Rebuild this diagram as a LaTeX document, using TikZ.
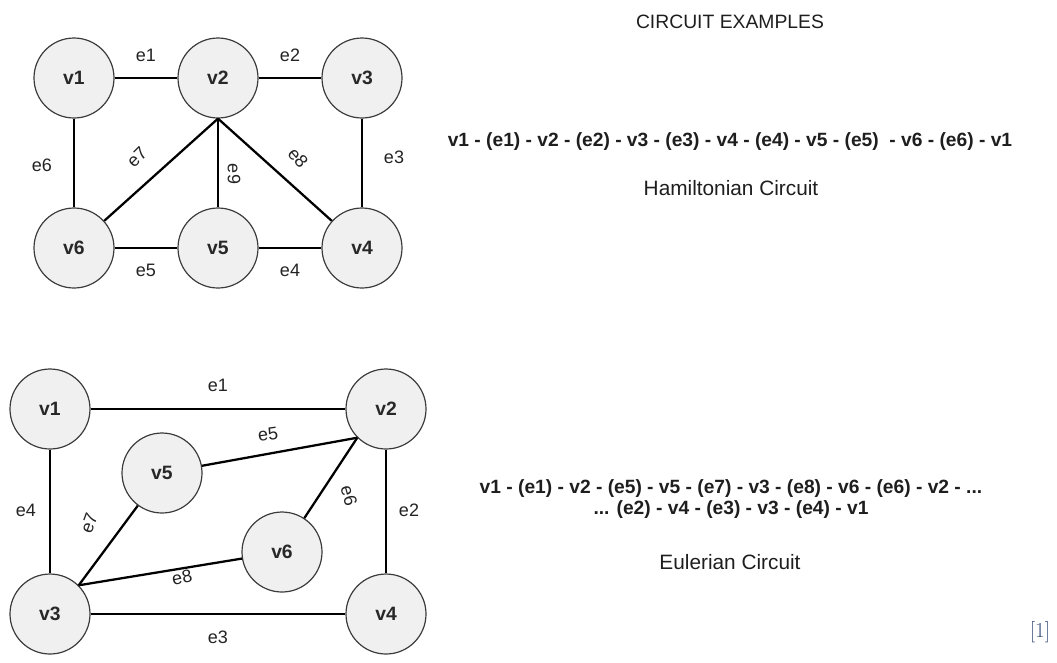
\documentclass[tikz,border=0pt]{standalone}
\usepackage{fontspec}
\setmainfont{Liberation Sans}
\begin{document}
\begin{tikzpicture}[x=0.75pt,y=-0.75pt,
  vertex/.style={circle,draw={rgb,255:red,60;green,60;blue,60},line width=0.9pt,
    fill={rgb,255:red,240;green,240;blue,240},minimum size=60pt,inner sep=0pt,
    font=\fontsize{14.5}{17}\selectfont\bfseries,text={rgb,255:red,40;green,40;blue,40}},
  edge/.style={line width=1.7pt,black},
  elabel/.style={inner sep=0pt,font=\fontsize{13.5}{16}\selectfont,text={rgb,255:red,35;green,35;blue,35}},
  caption/.style={inner sep=0pt,align=center,font=\fontsize{15.6}{18}\selectfont,text={rgb,255:red,30;green,30;blue,30}},
  walk/.style={inner sep=0pt,align=center,font=\fontsize{14.4}{17}\selectfont\bfseries,text={rgb,255:red,30;green,30;blue,30}}]
\useasboundingbox (0,0) rectangle (1057,662);

% ---- Hamiltonian example ----
\node[vertex] (h1) at (74,78) {v1};
\node[vertex] (h2) at (218,78) {v2};
\node[vertex] (h3) at (362,78) {v3};
\node[vertex] (h6) at (74,248) {v6};
\node[vertex] (h5) at (218,248) {v5};
\node[vertex] (h4) at (362,248) {v4};

\draw[edge] (h1) -- (h2);
\draw[edge] (h2) -- (h3);
\draw[edge] (h1) -- (h6);
\draw[edge] (h3) -- (h4);
\draw[edge] (h6) -- (h5);
\draw[edge] (h5) -- (h4);
\draw[edge] (h2.south) -- (h6);
\draw[edge] (h2.south) -- (h5);
\draw[edge] (h2.south) -- (h4);

\node[elabel] (he1) at (146,55) {e1};
\node[elabel] (he2) at (290,55) {e2};
\node[elabel] (he6) at (42,165) {e6};
\node[elabel] (he3) at (394,157) {e3};
\node[elabel] (he5) at (146,270) {e5};
\node[elabel] (he4) at (290,270) {e4};
\node[elabel,rotate=45] (he7) at (137,157) {e7};
\node[elabel,rotate=-50] (he8) at (298,158) {e8};
\node[elabel,rotate=-90] (he9) at (234,174) {e9};

% ---- Eulerian example ----
\node[vertex] (u1) at (50,409) {v1};
\node[vertex] (u2) at (386,409) {v2};
\node[vertex] (u5) at (162,473) {v5};
\node[vertex] (u6) at (282,552) {v6};
\node[vertex] (u3) at (50,614) {v3};
\node[vertex] (u4) at (386,614) {v4};

\draw[edge] (u1) -- (u2);
\draw[edge] (u1) -- (u3);
\draw[edge] (u2) -- (u4);
\draw[edge] (u3) -- (u4);
\draw[edge] (u2.south west) -- (u5);
\draw[edge] (u2.south west) -- (u6);
\draw[edge] (u3.north east) -- (u5);
\draw[edge] (u3.north east) -- (u6);

\node[elabel] (ue1) at (218,385) {e1};
\node[elabel] (ue3) at (218,637) {e3};
\node[elabel] (ue4) at (26,510) {e4};
\node[elabel] (ue2) at (409,510) {e2};
\node[elabel,rotate=8] (ue5) at (268,434) {e5};
\node[elabel,rotate=12] (ue8) at (182,577) {e8};
\node[elabel,rotate=70] (ue7) at (89,523) {e7};
\node[elabel,rotate=-75] (ue6) at (349,496) {e6};

% ---- text column ----
\node[walk,font=\fontsize{14.5}{17}\selectfont] (title) at (730,22) {CIRCUIT EXAMPLES};
\node[walk] (hwalk) at (730,142) {v1 - (e1) - v2 - (e2) - v3 - (e3) - v4 - (e4) - v5 - (e5) \ - v6 - (e6) - v1};
\node[caption] (hname) at (731,188) {Hamiltonian Circuit};
\node[walk] (ewalk) at (731,499) {v1 - (e1) - v2 - (e5) - v5 - (e7) - v3 - (e8) - v6 - (e6) - v2 - ...\\[-1pt] ... (e2) - v4 - (e3) - v3 - (e4) - v1};
\node[caption] (ename) at (730,562) {Eulerian Circuit};

\node[inner sep=0pt,font=\fontspec{Latin Modern Roman}\fontsize{16}{19}\selectfont,
  text={rgb,255:red,60;green,82;blue,125}] (ref) at (1040,632) {[1]};
\end{tikzpicture}
\end{document}
